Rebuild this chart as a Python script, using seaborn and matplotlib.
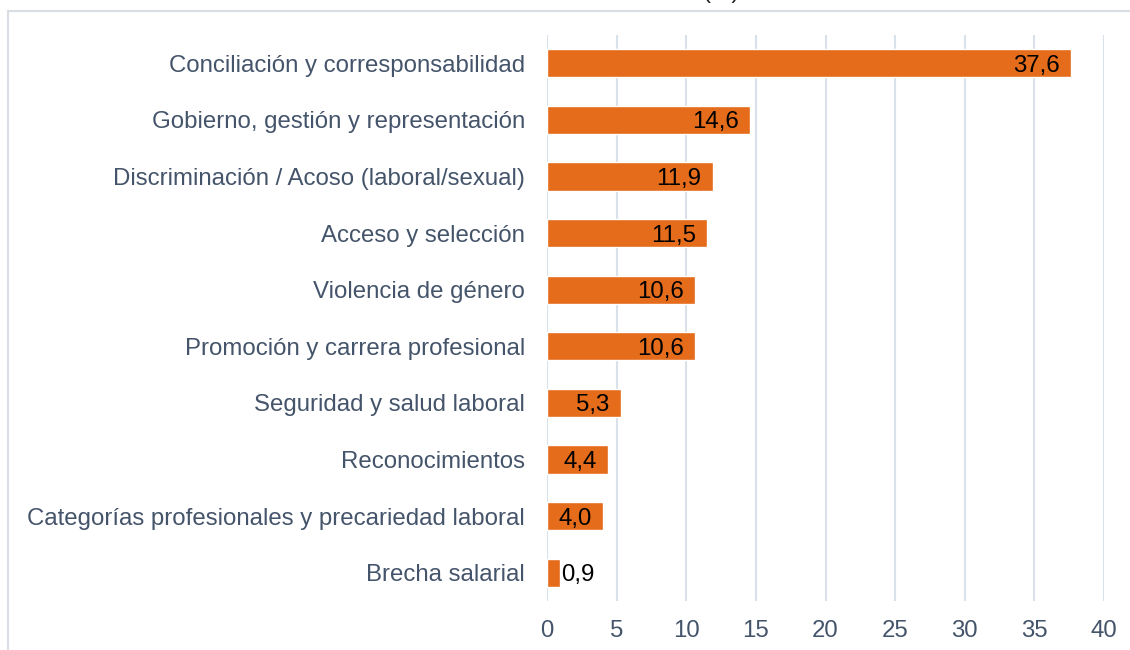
import numpy as np
import pandas as pd
import matplotlib.pyplot as plt
import seaborn as sns
from matplotlib.patches import Rectangle

# Data (%)
categorias = [
    'Conciliación y corresponsabilidad',
    'Gobierno, gestión y representación',
    'Discriminación / Acoso (laboral/sexual)',
    'Acceso y selección',
    'Violencia de género',
    'Promoción y carrera profesional',
    'Seguridad y salud laboral',
    'Reconocimientos',
    'Categorías profesionales y precariedad laboral',
    'Brecha salarial',
]
valores = [37.6, 14.6, 11.9, 11.5, 10.6, 10.6, 5.3, 4.4, 4.0, 0.9]
x_ticks = [0, 5, 10, 15, 20, 25, 30, 35, 40]

df = pd.DataFrame({'categoria': categorias, 'valor': valores})

sns.set_style('white')
plt.rcParams['font.family'] = ['Liberation Sans', 'DejaVu Sans']

label_color = '#44546A'
bar_color = '#E46C1A'
grid_color = '#D9E1EA'
fs = 17.3

fig = plt.figure(figsize=(11.3, 6.5), dpi=100)
ax = fig.add_axes([547 / 1130, 1 - 601 / 650, (1104 - 547) / 1130, 566 / 650])

sns.barplot(data=df, x='valor', y='categoria', color=bar_color, width=0.5,
            saturation=1, ax=ax, zorder=3)

ax.set_xlim(0, 40)
ax.set_ylim(9.5, -0.5)
ax.set_xticks(x_ticks)
ax.set_xticklabels([str(t) for t in x_ticks])
ax.set_xlabel('')
ax.set_ylabel('')
ax.grid(axis='x', color=grid_color, linewidth=1.5, zorder=0)
ax.grid(axis='y', visible=False)
sns.despine(ax=ax, left=True, bottom=True, top=True, right=True)
ax.tick_params(axis='y', length=0, pad=16, labelsize=fs, labelcolor=label_color)
ax.tick_params(axis='x', length=0, pad=14, labelsize=fs, labelcolor=label_color)

# value labels: inside end, or outside for tiny bars
for i, v in enumerate(valores):
    txt = f'{v:.1f}'.replace('.', ',')
    if v > 3:
        ax.annotate(txt, (v, i), xytext=(-8, 0), textcoords='offset points',
                    ha='right', va='center_baseline', fontsize=fs, color='black', zorder=4)
    else:
        ax.annotate(txt, (v, i), xytext=(1, 0), textcoords='offset points',
                    ha='left', va='center_baseline', fontsize=fs, color='black', zorder=4)

# outer frame of the original chart (partly cropped)
fig.patches.append(Rectangle((8 / 1130, -0.1), 1.2, 1.1 - 11 / 650,
                             transform=fig.transFigure, fill=False,
                             edgecolor='#D9DEE4', linewidth=1.5))

# cropped title, as in the reference
fig.text(721 / 1130, 1 + 2 / 650, '(%)', ha='center', va='baseline',
         fontsize=fs, color='#222222')

fig.savefig('out.png', dpi=100)
